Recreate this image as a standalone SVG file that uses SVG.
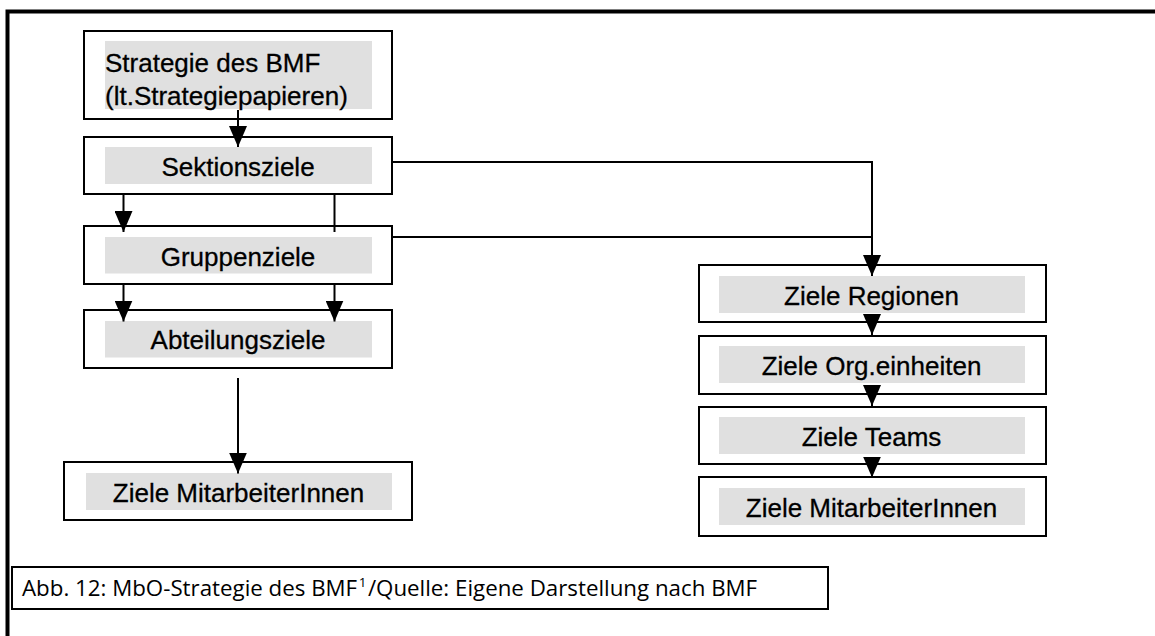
<svg xmlns="http://www.w3.org/2000/svg" width="1155" height="636" viewBox="0 0 1155 636">
<style>
.box{fill:#fff;stroke:#000;stroke-width:2}
.hl{fill:#e0e0e0;stroke:none}
.t{font-family:"Liberation Sans",Arial,sans-serif;font-size:26px;fill:#000;stroke:#000;stroke-width:0.3}
.c{text-anchor:middle}
.ln{fill:none;stroke:#000;stroke-width:2}
.cap{font-family:"Open Sans","DejaVu Sans",sans-serif;font-size:22.3px;fill:#000}
</style>
<defs>
<marker id="ah" viewBox="0 0 21 18" refX="21" refY="9" markerWidth="21" markerHeight="18" markerUnits="userSpaceOnUse" orient="auto">
<path d="M0,0 L21,9 L0,18 z" fill="#000"/>
</marker>
</defs>
<rect width="1155" height="636" fill="#fff"/>
<path d="M7.5,640 V11.5 H1160" fill="none" stroke="#000" stroke-width="4"/>

<g id="n-strategie">
<rect class="box" x="84" y="31" width="308" height="88"/>
<rect class="hl" x="105" y="41" width="267" height="68"/>
<text class="t" x="105" y="71.5">Strategie des BMF</text>
<text class="t" x="105" y="104.5">(lt.Strategiepapieren)</text>
</g>
<g id="n-sektion">
<rect class="box" x="84" y="137" width="308" height="57"/>
<rect class="hl" x="105" y="147" width="267" height="37"/>
<text class="t c" x="238" y="175.5">Sektionsziele</text>
</g>
<g id="n-gruppen">
<rect class="box" x="84" y="226" width="308" height="58"/>
<rect class="hl" x="105" y="237" width="267" height="36.5"/>
<text class="t c" x="238" y="265.5">Gruppenziele</text>
</g>
<g id="n-abteilung">
<rect class="box" x="84" y="310" width="308" height="58"/>
<rect class="hl" x="105" y="321" width="267" height="36.5"/>
<text class="t c" x="238" y="349.2">Abteilungsziele</text>
</g>
<g id="n-ma-left">
<rect class="box" x="64" y="462" width="348" height="58"/>
<rect class="hl" x="86" y="473" width="306" height="37"/>
<text class="t c" x="238.5" y="501.5">Ziele MitarbeiterInnen</text>
</g>
<g id="n-regionen">
<rect class="box" x="699" y="265" width="347" height="57"/>
<rect class="hl" x="719" y="276" width="306" height="37"/>
<text class="t c" x="871.5" y="304.5">Ziele Regionen</text>
</g>
<g id="n-org">
<rect class="box" x="699" y="336" width="347" height="58"/>
<rect class="hl" x="719" y="346" width="306" height="37"/>
<text class="t c" x="871.5" y="374.5">Ziele Org.einheiten</text>
</g>
<g id="n-teams">
<rect class="box" x="699" y="407" width="347" height="57"/>
<rect class="hl" x="719" y="417" width="306" height="37"/>
<text class="t c" x="871.5" y="445.5">Ziele Teams</text>
</g>
<g id="n-ma-right">
<rect class="box" x="699" y="477" width="347" height="59"/>
<rect class="hl" x="719" y="488" width="306" height="37"/>
<text class="t c" x="871.5" y="517">Ziele MitarbeiterInnen</text>
</g>

<g id="connectors">
<path class="ln" d="M238,110 V147" marker-end="url(#ah)"/>
<path class="ln" d="M123.5,194 V232" marker-end="url(#ah)"/>
<path class="ln" d="M334.5,194 V232"/>
<path class="ln" d="M123.5,284 V321.5" marker-end="url(#ah)"/>
<path class="ln" d="M334.5,284 V321.5" marker-end="url(#ah)"/>
<path class="ln" d="M238,378 V473.5" marker-end="url(#ah)"/>
<path class="ln" d="M392,162 H872 V276" marker-end="url(#ah)"/>
<path class="ln" d="M392,237 H872"/>
<path class="ln" d="M872,322 V335" marker-end="url(#ah)"/>
<path class="ln" d="M872,394 V406" marker-end="url(#ah)"/>
<path class="ln" d="M872,464 V477.5" marker-end="url(#ah)"/>
</g>

<g id="caption">
<rect class="box" x="12" y="567" width="816" height="42"/>
<text class="cap" x="22" y="596">Abb. 12: MbO-Strategie des BMF<tspan font-size="13.5" dx="1.5" dy="-9">1</tspan><tspan dx="1.5" dy="9">/Quelle: Eigene Darstellung nach BMF</tspan></text>
</g>
</svg>
